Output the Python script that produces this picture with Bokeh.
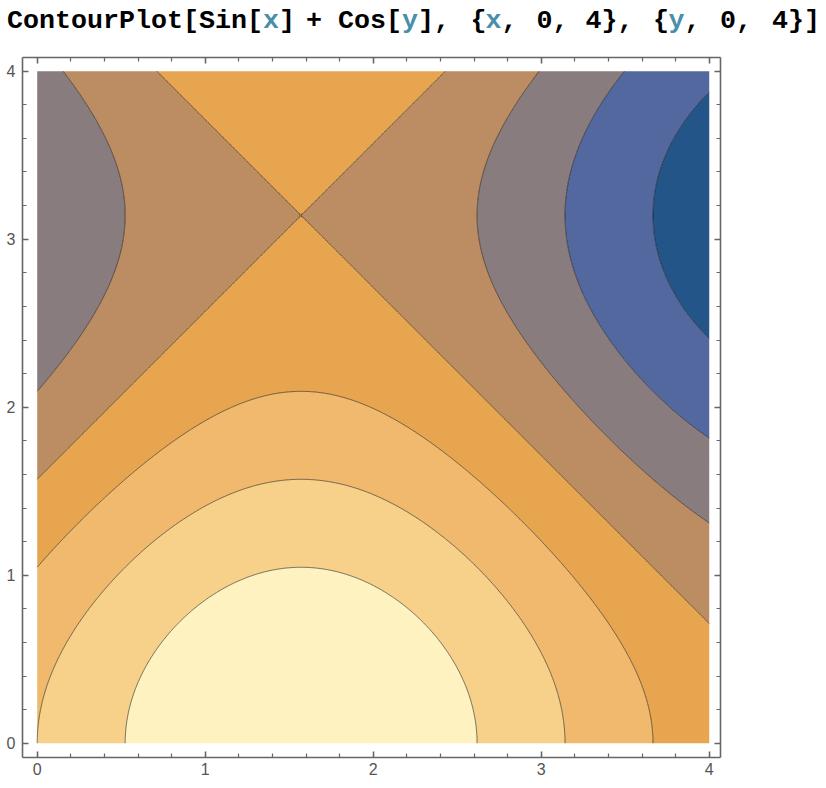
import numpy as np
from bokeh.plotting import figure
from bokeh.layouts import column
from bokeh.models import Range1d, LinearAxis, FixedTicker, CustomLabelingPolicy, Div
from bokeh.embed import file_html
from bokeh.resources import INLINE

# ContourPlot[Sin[x] + Cos[y], {x, 0, 4}, {y, 0, 4}]
x_min, x_max = 0, 4
y_min, y_max = 0, 4
contour_levels = [-2.0, -1.5, -1.0, -0.5, 0.0, 0.5, 1.0, 1.5, 2.01]
level_colors = ["#245589", "#5468a0", "#887c7e", "#bc8d62",
                "#e8a550", "#f0b96d", "#f7d089", "#fef2c0"]
major_ticks = [0, 1, 2, 3, 4]
minor_ticks = [0.2, 0.4, 0.6, 0.8, 1.2, 1.4, 1.6, 1.8, 2.2, 2.4, 2.6, 2.8,
               3.2, 3.4, 3.6, 3.8]

# title pieces (code text), which pieces are variables, and where they start (px)
title_parts = ["ContourPlot[Sin[", "x", "]", "+ Cos[", "y", "],", "{", "x", ",",
               "0,", "4},", "{", "y", ",", "0,", "4}]"]
title_is_var = [0, 1, 0, 0, 1, 0, 0, 1, 0, 0, 0, 0, 1, 0, 0, 0]
title_left = [5, 261, 277, 304, 400, 416, 468.5, 483.5, 499.5, 534.5, 583.5,
              651, 666.5, 682.5, 718, 770]
char_w = 16

# sample the function on a grid
xs = np.linspace(x_min, x_max, 241)
ys = np.linspace(y_min, y_max, 241)
X, Y = np.meshgrid(xs, ys)
Z = np.sin(X) + np.cos(Y)

W = 826
title_h = 30
frame_left, frame_top, frame_w, frame_h = 22, 17, 698, 700
plot_h = 748

# the input line above the plot, characters kept on a monospace grid
spans = []
for part, left, is_var in zip(title_parts, title_left, title_is_var):
    for j, ch in enumerate(part):
        if ch == " ":
            continue
        color = "#4a8fa9" if is_var else "#000000"
        spans.append('<span style="position:absolute;left:%.1fpx;top:3px;width:%dpx;'
                     'text-align:center;color:%s;">%s</span>'
                     % (left - 3 + j * char_w, char_w, color, ch))
title = Div(width=W, height=title_h,
            text='<div style="position:relative;width:%dpx;height:%dpx;'
                 "font-family:'Liberation Mono',monospace;font-weight:bold;"
                 'font-size:26.7px;line-height:26.7px;">%s</div>'
                 % (W, title_h, "".join(spans)))

p = figure(width=W, height=plot_h,
           x_range=Range1d(-0.0875, 4.067), y_range=Range1d(-0.085, 4.0815),
           output_backend="svg", toolbar_location=None,
           min_border_left=frame_left, min_border_right=W - frame_left - frame_w,
           min_border_top=frame_top, min_border_bottom=plot_h - frame_top - frame_h)
p.add_layout(LinearAxis(), "above")
p.add_layout(LinearAxis(), "right")
p.grid.visible = False
p.outline_line_color = None
p.background_fill_color = "white"

p.contour(xs, ys, Z, levels=contour_levels, fill_color=level_colors,
          line_color="black", line_alpha=0.5, line_width=1)

for ax in p.axis:
    ax.ticker = FixedTicker(ticks=major_ticks, minor_ticks=minor_ticks)
    ax.axis_line_color = "#666666"
    ax.axis_line_width = 1.6
    ax.major_tick_line_color = "#666666"
    ax.minor_tick_line_color = "#666666"
    ax.major_tick_line_width = 1.6
    ax.minor_tick_line_width = 1.2
    ax.major_tick_in = 6
    ax.major_tick_out = 0
    ax.minor_tick_in = 4
    ax.minor_tick_out = 0
    ax.major_label_text_font = "Liberation Sans"
    ax.major_label_text_font_size = "16px"
    ax.major_label_text_color = "#555555"

p.xaxis[0].major_label_standoff = 8
p.yaxis[0].major_label_standoff = 7

# frame ticks on top and right carry no labels
for ax in p.above + p.right:
    ax.major_label_policy = CustomLabelingPolicy(code="for (const i of indices) { if (false) yield i }")
    ax.major_label_text_font_size = "1px"
    ax.major_label_standoff = 0

layout = column(title, p)
open("out.html", "w").write(file_html(layout, INLINE))
